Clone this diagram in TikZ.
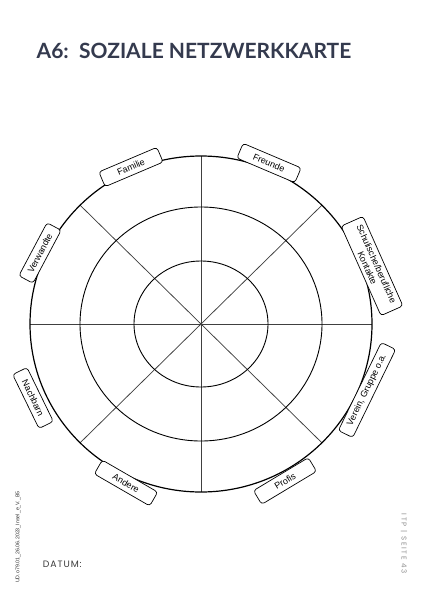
\documentclass[tikz,border=0pt]{standalone}
\usepackage{fontspec}
\setmainfont{Liberation Sans}
\newfontfamily\titlefont{Lato}
\newfontfamily\datefont{Poppins}[LetterSpace=10]
\newfontfamily\pagefont{Poppins}[LetterSpace=25]
\definecolor{titlecol}{RGB}{52,58,78}
\definecolor{datecol}{RGB}{60,60,60}
\definecolor{pagecol}{RGB}{140,140,140}
\tikzset{
  lab/.style={draw, fill=white, rounded corners=3pt, line width=0.7pt,
    minimum height=16pt, inner sep=1.5pt, align=center,
    font=\fontsize{9}{10}\selectfont},
  ring/.style={line width=0.9pt},
  outerring/.style={line width=1.2pt},
  spoke/.style={line width=0.75pt, draw=black!75}
}
\begin{document}
\begin{tikzpicture}[x=1pt,y=-1pt]
\useasboundingbox (0,0) rectangle (423,599);
\fill[white] (0,0) rectangle (423,599);
% title
\node[anchor=base west, inner sep=0, text=titlecol,
  font=\titlefont\bfseries\fontsize{21}{24}\selectfont] (title) at (36.5,58.3)
  {A6:\ \ SOZIALE NETZWERKKARTE};
% centre and spoke ends
\coordinate (c) at (201,324);
\coordinate (sN) at (201,156);
\coordinate (sS) at (201,492);
\coordinate (sW) at (30,324);
\coordinate (sE) at (372,324);
\coordinate (sNE) at (321.9,205.2);
\coordinate (sNW) at (80.1,205.2);
\coordinate (sSW) at (80.1,442.8);
\coordinate (sSE) at (321.9,442.8);
\foreach \e in {sN,sS,sW,sE,sNE,sNW,sSW,sSE}
  \draw[spoke] (c) -- (\e);
% rings
\draw[ring] (c) ellipse [x radius=67pt, y radius=63pt];
\draw[ring] (c) ellipse [x radius=121pt, y radius=117pt];
\draw[outerring] (c) ellipse [x radius=171pt, y radius=168pt];
% labels
\node[lab, minimum width=63pt, rotate=23] (familie) at (131,167) {Familie};
\node[lab, minimum width=63pt, rotate=-23] (freunde) at (269,163) {Freunde};
\node[lab, minimum width=98pt, minimum height=24pt, rotate=-66] (schule) at (372,266)
  {Schulische/berufliche\\Kontakte};
\node[lab, minimum width=98pt, rotate=64] (verein) at (367,390) {Verein, Gruppe o.a.};
\node[lab, minimum width=60pt, rotate=62] (verwandte) at (40,253) {Verwandte};
\node[lab, minimum width=60pt, rotate=-64] (nachbarn) at (33,398) {Nachbarn};
\node[lab, minimum width=64pt, rotate=-30] (andere) at (126,483) {Andere};
\node[lab, minimum width=64pt, rotate=31] (profis) at (285,481) {Profis};
% footer
\node[anchor=base west, inner sep=0, text=datecol,
  font=\datefont\fontsize{9.3}{11}\selectfont] (datum) at (42.7,567.3) {DATUM:};
\node[rotate=-90, inner sep=0, text=pagecol,
  font=\pagefont\fontsize{7}{8}\selectfont] (seite) at (404,544) {ITP | SEITE 43};
\node[rotate=90, inner sep=0, text=black!80,
  font=\fontsize{5.3}{6}\selectfont] (code) at (18,537) {UD.o79.01\_26.06.2023\_Insel\_e\_V.\_B5};
\end{tikzpicture}
\end{document}
